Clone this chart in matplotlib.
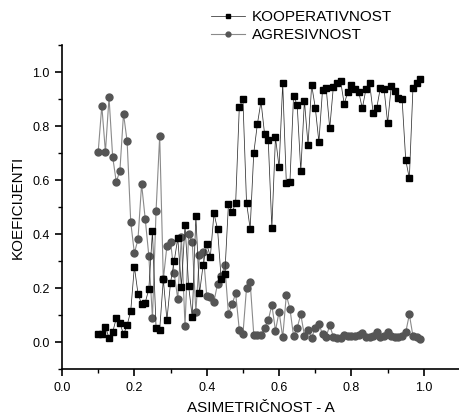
import matplotlib
matplotlib.use("Agg")
import matplotlib.pyplot as plt
from matplotlib.ticker import MultipleLocator

plt.rcParams['font.family'] = ['Liberation Sans', 'DejaVu Sans']

asimetricnost = [0.10, 0.11, 0.12, 0.13, 0.14, 0.15, 0.16, 0.17, 0.18, 0.19,
                 0.20, 0.21, 0.22, 0.23, 0.24, 0.25, 0.26, 0.27, 0.28, 0.29,
                 0.30, 0.31, 0.32, 0.33, 0.34, 0.35, 0.36, 0.37, 0.38, 0.39,
                 0.40, 0.41, 0.42, 0.43, 0.44, 0.45, 0.46, 0.47, 0.48, 0.49,
                 0.50, 0.51, 0.52, 0.53, 0.54, 0.55, 0.56, 0.57, 0.58, 0.59,
                 0.60, 0.61, 0.62, 0.63, 0.64, 0.65, 0.66, 0.67, 0.68, 0.69,
                 0.70, 0.71, 0.72, 0.73, 0.74, 0.75, 0.76, 0.77, 0.78, 0.79,
                 0.80, 0.81, 0.82, 0.83, 0.84, 0.85, 0.86, 0.87, 0.88, 0.89,
                 0.90, 0.91, 0.92, 0.93, 0.94, 0.95, 0.96, 0.97, 0.98, 0.99]

kooperativnost = [0.028, 0.028, 0.056, 0.015, 0.036, 0.088, 0.072, 0.028, 0.062, 0.115,
                  0.279, 0.179, 0.140, 0.146, 0.196, 0.411, 0.053, 0.045, 0.232, 0.082,
                  0.220, 0.299, 0.384, 0.205, 0.433, 0.208, 0.091, 0.467, 0.180, 0.285,
                  0.362, 0.316, 0.477, 0.417, 0.232, 0.251, 0.510, 0.480, 0.516, 0.869,
                  0.899, 0.516, 0.420, 0.700, 0.807, 0.891, 0.769, 0.748, 0.423, 0.758,
                  0.647, 0.958, 0.590, 0.594, 0.911, 0.878, 0.633, 0.894, 0.730, 0.952,
                  0.868, 0.741, 0.933, 0.942, 0.791, 0.946, 0.958, 0.967, 0.881, 0.927,
                  0.952, 0.936, 0.927, 0.865, 0.936, 0.960, 0.849, 0.868, 0.942, 0.938,
                  0.811, 0.948, 0.931, 0.905, 0.899, 0.674, 0.606, 0.942, 0.960, 0.973]

agresivnost = [0.704, 0.875, 0.704, 0.906, 0.686, 0.593, 0.634, 0.846, 0.743, 0.444,
               0.329, 0.380, 0.585, 0.456, 0.319, 0.089, 0.487, 0.763, 0.232, 0.356,
               0.372, 0.254, 0.160, 0.388, 0.060, 0.400, 0.371, 0.111, 0.322, 0.334,
               0.172, 0.168, 0.150, 0.216, 0.243, 0.284, 0.104, 0.140, 0.180, 0.045,
               0.028, 0.200, 0.223, 0.027, 0.027, 0.025, 0.052, 0.081, 0.137, 0.042,
               0.112, 0.017, 0.174, 0.123, 0.022, 0.053, 0.102, 0.024, 0.044, 0.016,
               0.053, 0.068, 0.028, 0.019, 0.062, 0.019, 0.015, 0.013, 0.025, 0.021,
               0.021, 0.021, 0.025, 0.035, 0.017, 0.017, 0.021, 0.037, 0.017, 0.021,
               0.036, 0.021, 0.017, 0.017, 0.021, 0.036, 0.102, 0.022, 0.017, 0.010]

series_labels = ["KOOPERATIVNOST", "AGRESIVNOST"]
x_label = "ASIMETRIČNOST - A"
y_label = "KOEFICIJENTI"

fig = plt.figure(figsize=(4.6, 4.15), dpi=100)
ax = fig.add_axes([62 / 460, 46 / 415, 398 / 460, 324 / 415])

ax.plot(asimetricnost, agresivnost, color='#8a8a8a', lw=0.8,
        marker='o', markersize=5.0, markerfacecolor='#555555',
        markeredgecolor='#555555', label=series_labels[1], zorder=2)
ax.plot(asimetricnost, kooperativnost, color='#303030', lw=0.55,
        marker='s', markersize=4.6, markerfacecolor='black',
        markeredgecolor='black', label=series_labels[0], zorder=3)

ax.set_xlim(0.0, 1.1)
ax.set_ylim(-0.1, 1.1)
ax.xaxis.set_minor_locator(MultipleLocator(0.1))
ax.yaxis.set_minor_locator(MultipleLocator(0.1))
ax.set_xticks([0.0, 0.2, 0.4, 0.6, 0.8, 1.0])
ax.set_yticks([0.0, 0.2, 0.4, 0.6, 0.8, 1.0])
ax.xaxis.set_major_formatter(plt.FormatStrFormatter('%.1f'))
ax.yaxis.set_major_formatter(plt.FormatStrFormatter('%.1f'))

for s in ['top', 'right']:
    ax.spines[s].set_visible(False)
for s in ['left', 'bottom']:
    ax.spines[s].set_linewidth(1.2)

ax.tick_params(which='major', direction='out', length=5, width=1.2,
               labelsize=9, colors='black', pad=4)
ax.tick_params(which='minor', direction='out', length=3, width=1.0)

fig.text(261 / 460, 3 / 415, x_label, fontsize=11, ha='center', va='baseline')
ax.set_ylabel(y_label, fontsize=11, labelpad=5)

handles, labels = ax.get_legend_handles_labels()
order = [1, 0]
fig.legend([handles[i] for i in order], [labels[i] for i in order],
           loc='upper left', bbox_to_anchor=(211 / 460, 1 - 10 / 415),
           frameon=False, fontsize=11, handlelength=2.2, handletextpad=0.45,
           labelspacing=0.28, borderpad=0, borderaxespad=0, markerscale=0.7)

fig.savefig("out.png", dpi=100)
